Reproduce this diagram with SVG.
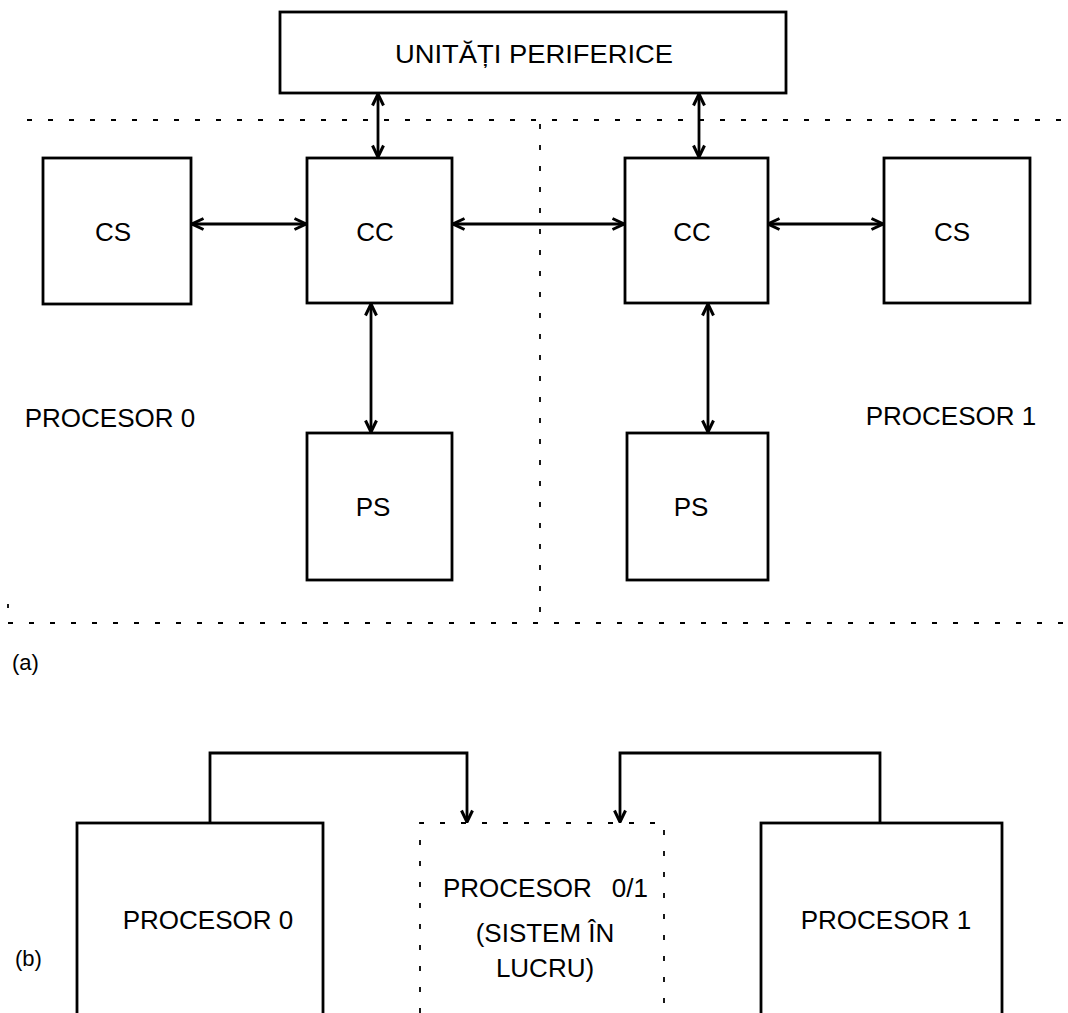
<svg xmlns="http://www.w3.org/2000/svg" width="1068" height="1013" viewBox="0 0 1068 1013">
  <defs>
    <marker id="arr" viewBox="0 0 14 14" refX="13" refY="7" markerWidth="14" markerHeight="14" markerUnits="userSpaceOnUse" orient="auto-start-reverse">
      <path d="M1.5,1.5 L13,7 L1.5,12.5" fill="none" stroke="#000" stroke-width="3" stroke-linejoin="miter"/>
    </marker>
  </defs>
  <style>
    .box { fill: #fff; stroke: #000; stroke-width: 2.8; }
    .lbl { font-family: "Liberation Sans", Arial, sans-serif; font-size: 26px; fill: #000; text-anchor: middle; }
    .tag { font-family: "Liberation Sans", Arial, sans-serif; font-size: 22px; fill: #000; }
    .dash { fill: none; stroke: #000; stroke-width: 1.8; stroke-dasharray: 5 16; }
    .link { fill: none; stroke: #000; stroke-width: 2.8; }
    .dup { marker-start: url(#arr); marker-end: url(#arr); }
    .one { marker-end: url(#arr); }
  </style>
  <rect width="1068" height="1013" fill="#fff"/>

  <!-- (a) dotted frames of the two processors -->
  <g id="frames">
    <line class="dash" x1="27" y1="120" x2="1068" y2="120"/>
    <line class="dash" x1="8" y1="623" x2="1068" y2="623"/>
    <line class="dash" x1="540" y1="124" x2="540" y2="623"/>
    <line class="dash" x1="8" y1="604" x2="8" y2="608"/>
  </g>

  <!-- (a) connectors -->
  <g id="connectors-a">
    <line class="link dup" x1="378" y1="94" x2="378" y2="157"/>
    <line class="link dup" x1="699" y1="94" x2="699" y2="157"/>
    <line class="link dup" x1="192" y1="224" x2="306" y2="224"/>
    <line class="link dup" x1="453" y1="224" x2="624" y2="224"/>
    <line class="link dup" x1="768" y1="224" x2="883" y2="224"/>
    <line class="link dup" x1="371" y1="304" x2="371" y2="432"/>
    <line class="link dup" x1="708" y1="304" x2="708" y2="432"/>
  </g>

  <g id="periferice">
    <rect class="box" x="280" y="12" width="506" height="81"/>
    <text class="lbl" x="534" y="63" font-size="27" textLength="278" lengthAdjust="spacingAndGlyphs">UNITĂȚI PERIFERICE</text>
  </g>
  <g id="cs0">
    <rect class="box" x="43" y="158" width="148" height="146"/>
    <text class="lbl" x="113" y="241">CS</text>
  </g>
  <g id="cc0">
    <rect class="box" x="307" y="158" width="145" height="145"/>
    <text class="lbl" x="375" y="241">CC</text>
  </g>
  <g id="cc1">
    <rect class="box" x="625" y="158" width="143" height="145"/>
    <text class="lbl" x="692" y="241">CC</text>
  </g>
  <g id="cs1">
    <rect class="box" x="884" y="158" width="146" height="145"/>
    <text class="lbl" x="952" y="241">CS</text>
  </g>
  <g id="ps0">
    <rect class="box" x="307" y="433" width="145" height="147"/>
    <text class="lbl" x="373" y="516">PS</text>
  </g>
  <g id="ps1">
    <rect class="box" x="627" y="433" width="141" height="147"/>
    <text class="lbl" x="691" y="516">PS</text>
  </g>
  <g id="proc0-label">
    <text class="lbl" x="110" y="427">PROCESOR 0</text>
  </g>
  <g id="proc1-label">
    <text class="lbl" x="951" y="425">PROCESOR 1</text>
  </g>
  <text class="tag" x="12" y="670">(a)</text>

  <!-- (b) switchover -->
  <g id="connectors-b">
    <polyline class="link one" points="210,823 210,753 467,753 467,822"/>
    <polyline class="link one" points="880,823 880,753 620,753 620,822"/>
  </g>
  <g id="b-proc0">
    <rect class="box" x="77" y="823" width="246" height="200"/>
    <text class="lbl" x="208" y="929">PROCESOR 0</text>
  </g>
  <g id="b-active">
    <path class="dash" d="M420,1013 V823 H664 V1013"/>
    <text class="lbl" y="897"><tspan x="443" text-anchor="start">PROCESOR</tspan><tspan x="648" text-anchor="end">0/1</tspan></text>
    <text class="lbl" x="545" y="942">(SISTEM ÎN</text>
    <text class="lbl" x="545" y="977">LUCRU)</text>
  </g>
  <g id="b-proc1">
    <rect class="box" x="761" y="823" width="241" height="200"/>
    <text class="lbl" x="886" y="929">PROCESOR 1</text>
  </g>
  <text class="tag" x="15" y="966">(b)</text>
</svg>
